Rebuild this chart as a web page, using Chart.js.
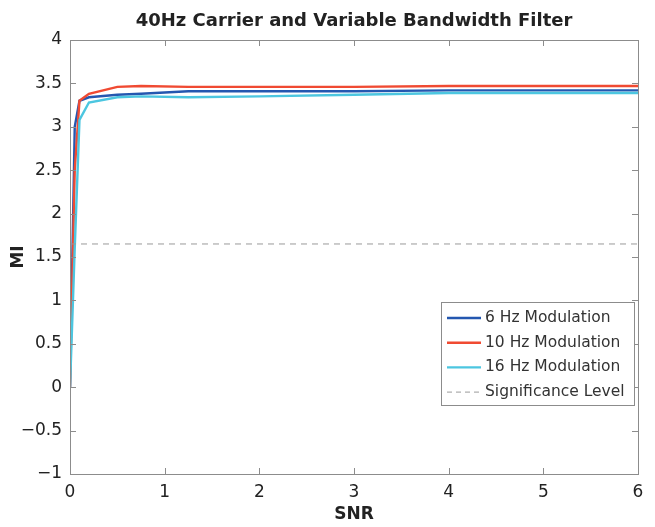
<!DOCTYPE html>
<html>
<head>
<meta charset="utf-8">
<script src="https://cdn.jsdelivr.net/npm/chart.js@4"></script>
<style>
  html, body { margin: 0; padding: 0; background: #fff; }
  #wrap { width: 655px; height: 527px; }
</style>
</head>
<body>
<div id="wrap"><canvas id="miChart"></canvas></div>
<script>
// SNR sample points
const snr = [0, 0.05, 0.1, 0.2, 0.5, 0.75, 1.25, 2, 3, 4, 5, 6];

const mod6Hz  = [0, 3.00, 3.30, 3.34, 3.37, 3.38, 3.41, 3.41, 3.41, 3.42, 3.42, 3.42];
const mod10Hz = [0, 2.50, 3.30, 3.38, 3.46, 3.47, 3.46, 3.46, 3.46, 3.47, 3.47, 3.47];
const mod16Hz = [0, 1.60, 3.08, 3.28, 3.34, 3.35, 3.34, 3.35, 3.37, 3.39, 3.39, 3.39];

const significance = 1.65;
const xTicks = [0, 1, 2, 3, 4, 5, 6];
const yTicks = [-1, -0.5, 0, 0.5, 1, 1.5, 2, 2.5, 3, 3.5, 4];

const chartTitle = '40Hz Carrier and Variable Bandwidth Filter';
const seriesLabels = ['6 Hz Modulation', '10 Hz Modulation', '16 Hz Modulation', 'Significance Level'];
const seriesColors = ['#2457b0', '#f04a32', '#4cc6e0', '#9a9a9a'];

function toPoints(xs, ys) {
    return xs.map((x, i) => ({ x: x, y: ys[i] }));
}

const fontFamily = '"DejaVu Sans", sans-serif';

// title centred over the plot area (like MATLAB), not over the canvas
const axesTitlePlugin = {
    id: 'axesTitle',
    afterDraw(chart) {
        const { ctx, chartArea: a } = chart;
        ctx.save();
        ctx.font = 'bold 18px ' + fontFamily;
        ctx.fillStyle = '#222';
        ctx.textAlign = 'center';
        ctx.textBaseline = 'middle';
        ctx.fillText(chartTitle, (a.left + a.right) / 2, 21);
        ctx.restore();
    }
};

// box around the plot with inward ticks (MATLAB style)
const boxPlugin = {
    id: 'box',
    afterDraw(chart) {
        const { ctx, chartArea: a, scales } = chart;
        ctx.save();
        ctx.strokeStyle = '#8c8c8c';
        ctx.lineWidth = 1;
        ctx.strokeRect(a.left + 0.5, a.top + 0.5, a.right - a.left, a.bottom - a.top);
        ctx.beginPath();
        xTicks.forEach(v => {
            const px = Math.round(scales.x.getPixelForValue(v)) + 0.5;
            ctx.moveTo(px, a.bottom); ctx.lineTo(px, a.bottom - 6);
            ctx.moveTo(px, a.top); ctx.lineTo(px, a.top + 6);
        });
        yTicks.forEach(v => {
            const py = Math.round(scales.y.getPixelForValue(v)) + 0.5;
            ctx.moveTo(a.left, py); ctx.lineTo(a.left + 6, py);
            ctx.moveTo(a.right, py); ctx.lineTo(a.right - 6, py);
        });
        ctx.stroke();
        ctx.restore();
    }
};

// legend box in the lower right of the plot
const legendPlugin = {
    id: 'boxLegend',
    afterDraw(chart) {
        const { ctx, chartArea: a } = chart;
        const w = 193, h = 103;
        const x0 = a.right - 197, y0 = a.top + 262;
        ctx.save();
        ctx.fillStyle = '#fff';
        ctx.fillRect(x0, y0, w, h);
        ctx.strokeStyle = '#8c8c8c';
        ctx.lineWidth = 1;
        ctx.strokeRect(x0 + 0.5, y0 + 0.5, w, h);
        ctx.font = '15.5px ' + fontFamily;
        ctx.textBaseline = 'middle';
        seriesLabels.forEach((label, i) => {
            const y = y0 + 16 + i * 24.7;
            ctx.beginPath();
            ctx.strokeStyle = seriesColors[i];
            ctx.lineWidth = i === 3 ? 1 : 2.4;
            ctx.setLineDash(i === 3 ? [5, 4] : []);
            ctx.moveTo(x0 + 6, y);
            ctx.lineTo(x0 + 40, y);
            ctx.stroke();
            ctx.setLineDash([]);
            ctx.fillStyle = '#333';
            ctx.fillText(label, x0 + 44, y);
        });
        ctx.restore();
    }
};

const ctx = document.getElementById('miChart').getContext('2d');
new Chart(ctx, {
    type: 'scatter',
    data: {
        datasets: [
            {
                label: seriesLabels[0],
                data: toPoints(snr, mod6Hz),
                borderColor: seriesColors[0],
                borderWidth: 2.4,
                showLine: true,
                pointRadius: 0,
                order: 4
            },
            {
                label: seriesLabels[1],
                data: toPoints(snr, mod10Hz),
                borderColor: seriesColors[1],
                borderWidth: 2.4,
                showLine: true,
                pointRadius: 0,
                order: 3
            },
            {
                label: seriesLabels[2],
                data: toPoints(snr, mod16Hz),
                borderColor: seriesColors[2],
                borderWidth: 2.4,
                showLine: true,
                pointRadius: 0,
                order: 2
            },
            {
                label: seriesLabels[3],
                data: [{ x: 0, y: significance }, { x: 6, y: significance }],
                borderColor: seriesColors[3],
                borderWidth: 1,
                borderDash: [6, 5],
                showLine: true,
                pointRadius: 0,
                order: 1
            }
        ]
    },
    options: {
        responsive: true,
        maintainAspectRatio: false,
        animation: false,
        layout: { padding: { left: 0, right: 17, top: 40, bottom: 0 } },
        plugins: {
            legend: { display: false },
            tooltip: { enabled: false },
            title: { display: false }
        },
        scales: {
            x: {
                type: 'linear',
                min: 0,
                max: 6,
                afterBuildTicks(scale) { scale.ticks = xTicks.map(v => ({ value: v })); },
                afterFit(scale) { scale.height = 53; },
                grid: { display: false, drawTicks: false },
                border: { display: false },
                ticks: {
                    color: '#222',
                    font: { family: fontFamily, size: 17 },
                    padding: 8,
                    maxRotation: 0
                },
                title: {
                    display: true,
                    text: 'SNR',
                    color: '#222',
                    font: { family: fontFamily, size: 17, weight: 'bold' },
                    padding: { top: 0, bottom: 2 }
                }
            },
            y: {
                type: 'linear',
                min: -1,
                max: 4,
                afterBuildTicks(scale) { scale.ticks = yTicks.map(v => ({ value: v })); },
                afterFit(scale) { scale.width = 70; },
                grid: { display: false, drawTicks: false },
                border: { display: false },
                ticks: {
                    color: '#222',
                    font: { family: fontFamily, size: 17 },
                    padding: 8,
                    callback: v => String(v).replace('-', '\u2212')
                },
                title: {
                    display: true,
                    text: 'MI',
                    color: '#222',
                    font: { family: fontFamily, size: 17, weight: 'bold' },
                    padding: { top: 8, bottom: 0 }
                }
            }
        }
    },
    plugins: [axesTitlePlugin, boxPlugin, legendPlugin]
});
</script>
</body>
</html>
